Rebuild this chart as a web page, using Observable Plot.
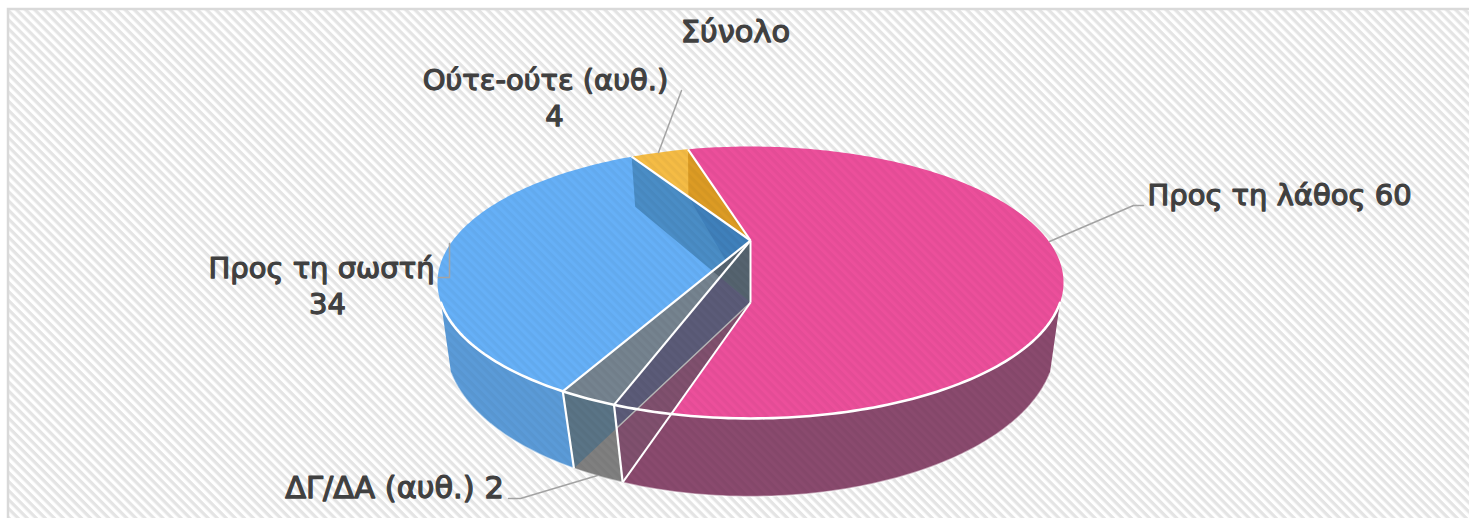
<!DOCTYPE html>
<html><head><meta charset="utf-8">
<script src="https://cdn.jsdelivr.net/npm/d3@7"></script>
<script src="https://cdn.jsdelivr.net/npm/@observablehq/plot@0.6"></script>
<style>html,body{margin:0;padding:0;background:#fff;overflow:hidden}svg{display:block}</style>
</head><body><div id="chart"></div>
<script>
// Data: slice shares; the labels show them rounded
const title = "Σύνολο";
const categories = ["Προς τη λάθος", "ΔΓ/ΔΑ (αυθ.)", "Προς τη σωστή", "Ούτε-ούτε (αυθ.)"];
const values = [59.65, 2.3, 34.0, 4.05];
const shown = values.map(Math.round);

// Style
const ink = "#404040", leaderColor = "#a3a3a3";
const topColor = ["#ec4f9b", "#75838f", "#66b0f7", "#f5bc45"];
const wallColor = ["#8a4a6e", "#808080", "#5b9bd8"];
const firstSliceAngle = -15.8;

// 3D projection of the disc: a = degrees clockwise from the back of the pie
const topFace = {cx: 750, cy: 240, B: 297.7, A: 123, C: 0.3088};
const botFace = {cx: 750, cy: 302, B: 294, A: 142, C: 0.268};
const backFace = {cx: 750, cy: 302, B: 228, A: 111, C: 0};
const pt = (f, a) => {
  const r = a * Math.PI / 180, u = Math.sin(r), v = -Math.cos(r), w = 1 - f.C * v;
  return [f.cx + f.B * u / w, f.cy + f.A * v / w];
};
const T = a => pt(topFace, a), Bt = a => pt(botFace, a);
const arc = (f, a0, a1) => { const n = Math.max(2, Math.ceil(Math.abs(a1 - a0))); return d3.range(n + 1).map(i => pt(f, a0 + (a1 - a0) * i / n)); };
const cross = (p1, p2, p3, p4) => {
  const d = (p1[0]-p2[0])*(p3[1]-p4[1]) - (p1[1]-p2[1])*(p3[0]-p4[0]);
  const a = p1[0]*p2[1]-p1[1]*p2[0], b = p3[0]*p4[1]-p3[1]*p4[0];
  return [(a*(p3[0]-p4[0])-(p1[0]-p2[0])*b)/d, (a*(p3[1]-p4[1])-(p1[1]-p2[1])*b)/d];
};

// Slice boundaries from the values
const total = d3.sum(values);
const edges = [firstSliceAngle];
values.forEach(v => edges.push(edges[edges.length - 1] + v / total * 360));
const [aS, aP, aB, aY, aE] = edges;
const wallFrom = 116, wallTo = 244;

const A0 = [topFace.cx, topFace.cy], A1 = [botFace.cx, botFace.cy];
const Pt = T(aP), Pb = Bt(aP), Btop = T(aB), Bbot = Bt(aB), Yt = T(aY), St = T(aS);
const Yb = pt(backFace, aY), Sb = pt(backFace, aS);
const X = cross(A1, Bbot, Pt, Pb);
const I = cross(St, Sb, A0, Yt);
const I1 = cross(Yb, A1, A0, Btop);

const sector = (a0, a1) => [A0, ...arc(topFace, a0, a1), A0];
const wall = (a0, a1) => [...arc(topFace, a0, a1), ...arc(botFace, a1, a0)];

const polys = [
  [wall(wallFrom, aP), wallColor[0]],
  [wall(aP, aB), wallColor[1]],
  [wall(aB, wallTo), wallColor[2]],
  [sector(aS, aP), topColor[0]],
  [sector(aB, aY), topColor[2]],
  [sector(aY, aE), topColor[3]],
  [[Yt, A0, A1, Yb], "#4a8dc6"],
  [[I, A0, A1], "#3f80bb"],
  [[St, A0, I], "#dc9b24"],
  [sector(aP, aB), topColor[1]],
  [[A0, Pt, Pb, A1], "#80506e"],
  [[A0, Pt, X, A1], "#5b5b78"],
  [[A0, I1, A1], "#55636f"],
  [[Btop, Pt, X, Bbot], "#5a7486"]
];
const whiteLines = [
  [A0, St, 2.2], [A0, Yt, 2.2], [A0, Btop, 2.2], [A0, Pt, 2.2],
  [A0, A1, 2], [A1, Pb, 2], [Btop, Bbot, 2.2], [Pt, Pb, 2.2]
];

// Layout of texts and leader lines
const labels = [
  {t: title, x: 735, y: 32, s: 30.5},
  {t: categories[3], x: 545, y: 80, s: 29},
  {t: String(shown[3]), x: 554, y: 116, s: 29},
  {t: categories[0] + " " + shown[0], x: 1279, y: 195, s: 29},
  {t: categories[2], x: 321, y: 268, s: 29},
  {t: String(shown[2]), x: 327, y: 304, s: 29},
  {t: categories[1] + " " + shown[1], x: 394, y: 488, s: 30.5}
];
const leaders = [
  [[681, 90], [658, 152]],
  [[1143, 205], [1133, 205], [1049, 241]],
  [[438, 277], [449, 277], [449, 243]],
  [[508, 498], [520, 498], [597, 475]]
];

const X_ = d => d[0], Y_ = d => d[1];
const defs = () => {
  const d = d3.create("svg:defs");
  const p = d.append("pattern").attr("id", "stripes").attr("width", 6.4).attr("height", 6.4)
    .attr("patternUnits", "userSpaceOnUse").attr("patternTransform", "rotate(45)");
  p.append("rect").attr("width", 6.4).attr("height", 6.4).attr("fill", "#ffffff");
  p.append("rect").attr("width", 6.4).attr("height", 3.2).attr("fill", "#e4e4e4");
  const q = d.append("pattern").attr("id", "sheen").attr("width", 6.4).attr("height", 6.4)
    .attr("patternUnits", "userSpaceOnUse").attr("patternTransform", "rotate(45)");
  q.append("rect").attr("width", 6.4).attr("height", 3.2).attr("fill", "#000000").attr("fill-opacity", 0.035);
  return d.node();
};

const chart = Plot.plot({
  width: 1469, height: 518,
  margin: 0,
  x: {domain: [0, 1469], range: [0, 1469], axis: null},
  y: {domain: [0, 518], range: [0, 518], axis: null},
  style: {background: "#fff", overflow: "hidden"},
  marks: [
    defs,
    Plot.rect([0], {x1: () => 8, x2: () => 1480, y1: () => 9, y2: () => 530, fill: "url(#stripes)", stroke: "#d9d9d9", strokeWidth: 2.5}),
    ...polys.map(([p, c]) => Plot.line(p, {x: X_, y: Y_, fill: c, stroke: "none"})),
    Plot.line(arc(topFace, 0, 360), {x: X_, y: Y_, fill: "url(#sheen)", stroke: "none"}),
    Plot.line(wall(wallFrom, wallTo), {x: X_, y: Y_, fill: "url(#sheen)", stroke: "none"}),
    Plot.line(arc(botFace, wallFrom, wallTo), {x: X_, y: Y_, stroke: "#fff", strokeOpacity: 0.5, strokeWidth: 1.5}),
    Plot.line([A1, X], {x: X_, y: Y_, stroke: "#b5b5b5", strokeWidth: 1.5}),
    ...whiteLines.map(([a, b, w]) => Plot.line([a, b], {x: X_, y: Y_, stroke: "#fff", strokeWidth: w, strokeLinecap: "butt"})),
    Plot.line(arc(topFace, wallFrom, wallTo), {x: X_, y: Y_, stroke: "#fff", strokeWidth: 2.6}),
    ...leaders.map(l => Plot.line(l, {x: X_, y: Y_, stroke: leaderColor, strokeWidth: 1.5})),
    Plot.text(labels, {x: "x", y: "y", text: "t", fontSize: "s", fontFamily: "DejaVu Sans", fontWeight: "normal", fill: ink, stroke: ink, strokeWidth: 1.25, textAnchor: "middle", lineAnchor: "middle"})
  ]
});
document.getElementById("chart").append(chart);
</script></body></html>
